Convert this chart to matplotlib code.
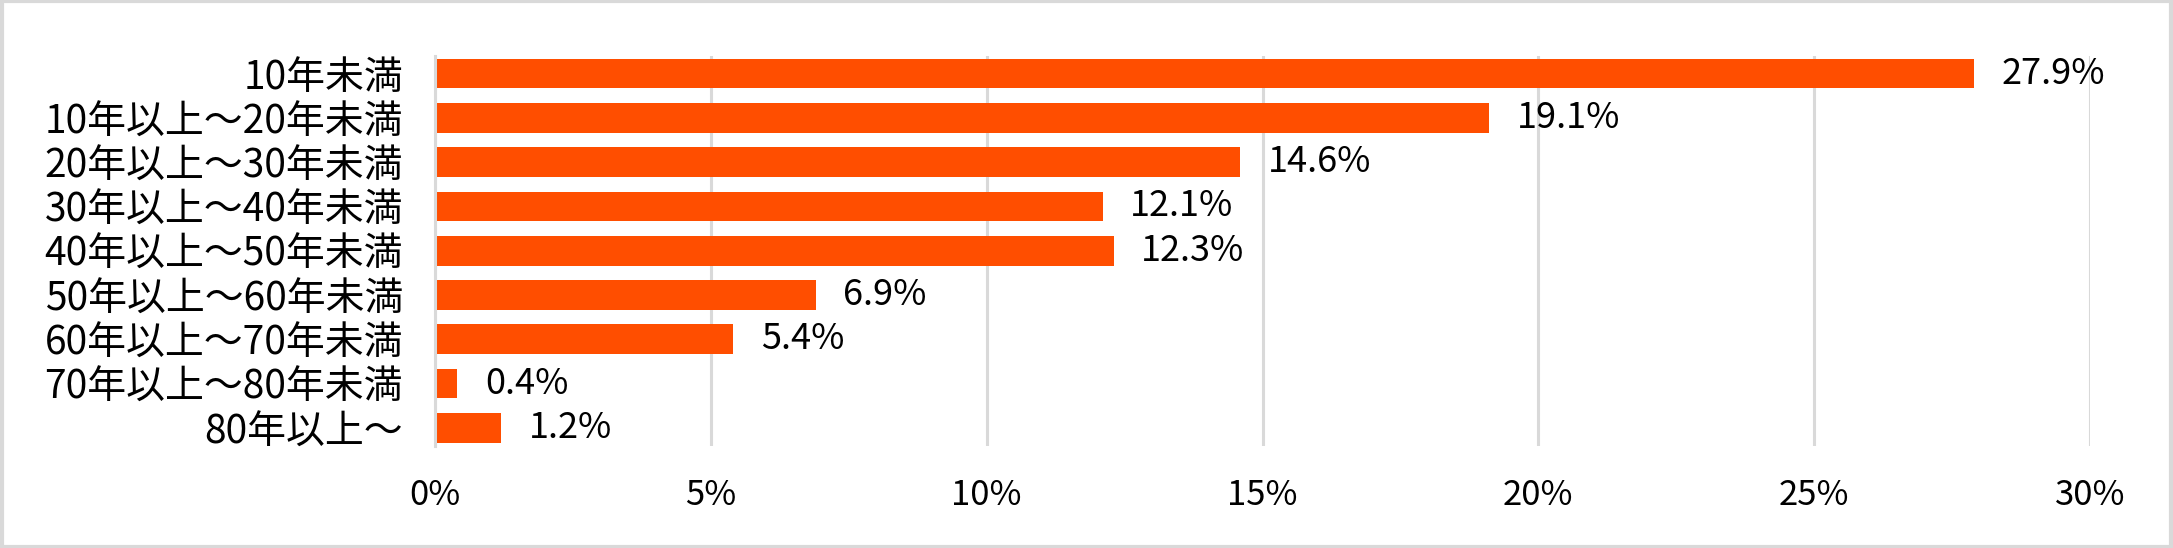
import matplotlib

matplotlib.use("Agg")
import matplotlib.pyplot as plt
from matplotlib.patches import Rectangle
from matplotlib.ticker import FuncFormatter, MultipleLocator

plt.rcParams["font.family"] = ["Noto Sans CJK JP", "DejaVu Sans"]

categories = [
    "10年未満",
    "10年以上～20年未満",
    "20年以上～30年未満",
    "30年以上～40年未満",
    "40年以上～50年未満",
    "50年以上～60年未満",
    "60年以上～70年未満",
    "70年以上～80年未満",
    "80年以上～",
]
shares = [27.9, 19.1, 14.6, 12.1, 12.3, 6.9, 5.4, 0.4, 1.2]

BAR_COLOR = "#FF4E00"
GRID_COLOR = "#D9D9D9"


def main() -> None:
    fig = plt.figure(figsize=(21.73, 5.48), dpi=100)
    ax = fig.add_axes([0.2002, 0.1869, 0.7616, 0.7113])

    y = list(range(len(categories)))
    ax.barh(y, shares, height=0.67, color=BAR_COLOR, zorder=3)
    for yi, v in zip(y, shares):
        ax.annotate(f"{v:.1f}%", xy=(v, yi), xytext=(20, 0), textcoords="offset points",
                    va="center", ha="left", fontsize=26, color="black")

    ax.set_xlim(0, 30)
    ax.set_ylim(len(categories) - 1 + 0.4, -0.4)
    ax.xaxis.set_major_locator(MultipleLocator(5))
    ax.xaxis.set_major_formatter(FuncFormatter(lambda x, _: f"{x:.0f}%"))
    ax.set_yticks(y)
    ax.set_yticklabels(categories)
    ax.tick_params(axis="y", length=0, pad=23, labelsize=28)
    ax.tick_params(axis="x", length=0, pad=23, labelsize=25)
    ax.grid(axis="x", color=GRID_COLOR, linewidth=2.2, zorder=0)
    for side in ("top", "right", "bottom"):
        ax.spines[side].set_visible(False)
    ax.spines["left"].set_color(GRID_COLOR)
    ax.spines["left"].set_linewidth(2.2)
    ax.spines["left"].set_zorder(4)

    # light frame around the whole figure
    fig.patches.append(Rectangle((0.001, 0.002), 0.998, 0.996, transform=fig.transFigure,
                                 fill=False, edgecolor=GRID_COLOR, linewidth=3))

    fig.savefig("out.png", dpi=100)
    plt.close(fig)


if __name__ == "__main__":
    main()
